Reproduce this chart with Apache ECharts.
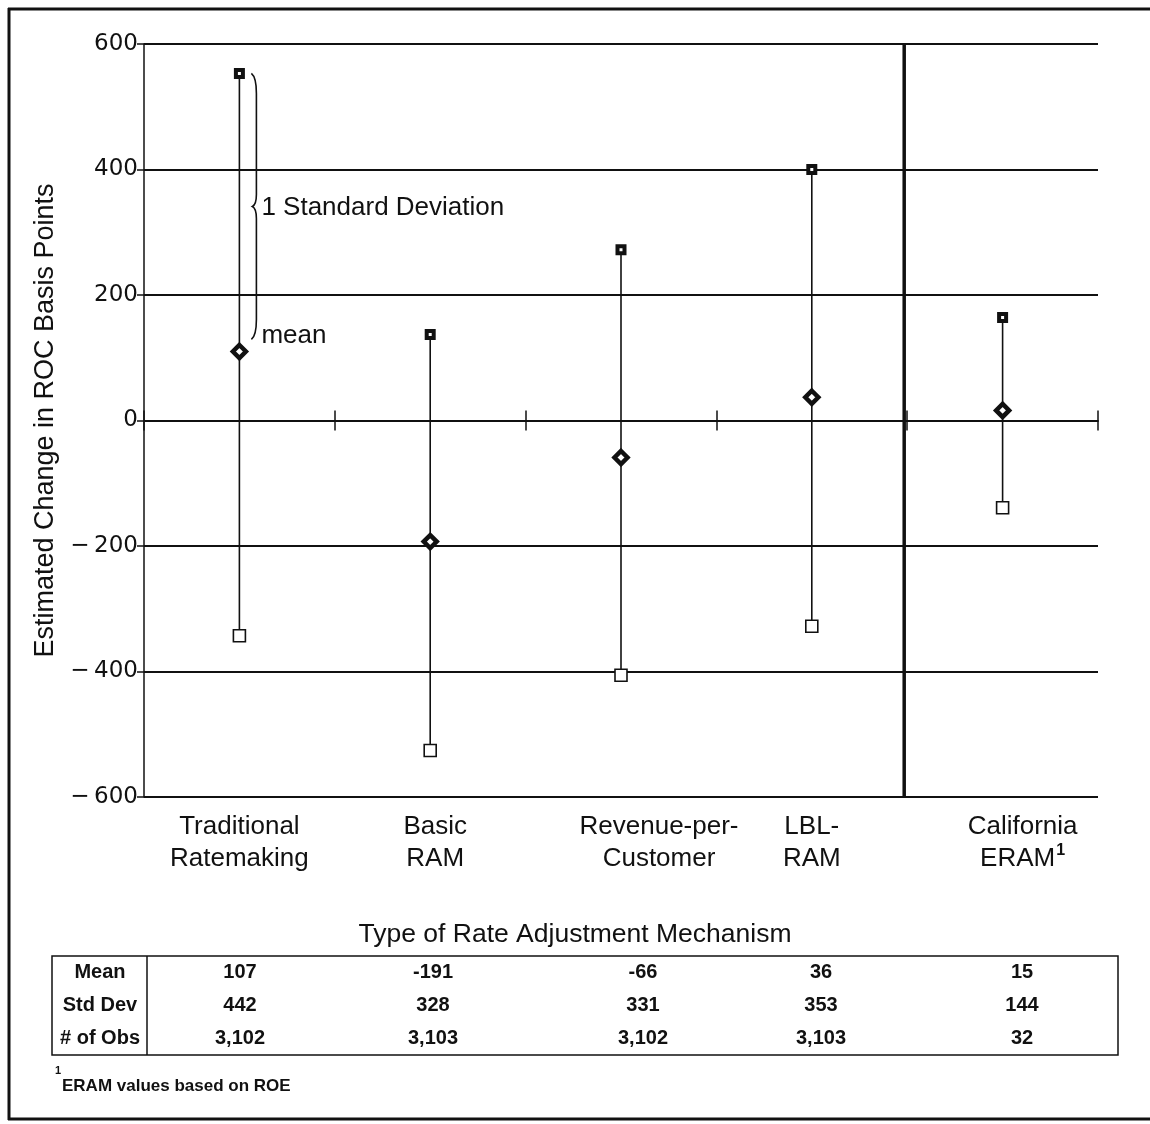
<!DOCTYPE html>
<html>
<head>
<meta charset="utf-8">
<script src="https://cdn.jsdelivr.net/npm/echarts@6/dist/echarts.min.js"></script>
<style>
html,body{margin:0;padding:0;background:#fff;}
#chart{width:1150px;height:1124px;}
</style>
</head>
<body>
<div id="chart"></div>
<script>
// ---- data ----
var categories = ['Traditional\nRatemaking', 'Basic\nRAM', 'Revenue-per-\nCustomer', 'LBL-\nRAM', 'California\nERAM'];
var meanValues = [110, -193, -59, 37, 16];          // diamonds
var upperValues = [553, 137, 272, 400, 164];        // mean + 1 SD
var lowerValues = [-343, -526, -406, -328, -139];   // mean - 1 SD
var yTicks = [-600, -400, -200, 0, 200, 400, 600];
var tableRowLabels = ['Mean', 'Std Dev', '# of Obs'];
var tableMean = ['107', '-191', '-66', '36', '15'];
var tableStd = ['442', '328', '331', '353', '144'];
var tableObs = ['3,102', '3,103', '3,102', '3,103', '32'];

// ---- layout ----
var labelFont = '"Liberation Sans", Arial, Helvetica, sans-serif';
var tickFont = '"DejaVu Sans", sans-serif';
var tableColX = [240, 433, 643, 821, 1022];
var tableRowY = [972, 1005, 1038];

var chart = echarts.init(document.getElementById('chart'), null, {renderer: 'canvas'});

var barData = categories.map(function (c, i) { return [i, lowerValues[i], upperValues[i]]; });

var labelPads = [0, 10, 76, 0, 40];
var rich = {};
labelPads.forEach(function (p, i) {
  rich['c' + i] = {fontFamily: labelFont, fontSize: 26, color: '#111', lineHeight: 32, padding: [0, 0, 0, p]};
});
rich.sup = {fontFamily: labelFont, fontSize: 16, fontWeight: 'bold', color: '#111', verticalAlign: 'top', lineHeight: 32, padding: [0, 0, 12, 1]};

var g = [];
g.push({type: 'rect', shape: {x: 52, y: 956, width: 1066, height: 99}, style: {fill: null, stroke: '#111', lineWidth: 1.5}});
g.push({type: 'line', shape: {x1: 147, y1: 956, x2: 147, y2: 1055}, style: {stroke: '#111', lineWidth: 1.5}});
var rows = [tableMean, tableStd, tableObs];
tableRowLabels.forEach(function (lab, r) {
  g.push({type: 'text', x: 100, y: tableRowY[r], style: {text: lab, font: 'bold 20px ' + labelFont, fill: '#111', align: 'center', verticalAlign: 'middle'}});
  rows[r].forEach(function (v, c) {
    g.push({type: 'text', x: tableColX[c], y: tableRowY[r], style: {text: v, font: 'bold 20px ' + labelFont, fill: '#111', align: 'center', verticalAlign: 'middle'}});
  });
});
// footnote
g.push({type: 'text', x: 55, y: 1071, style: {text: '1', font: 'bold 11px ' + labelFont, fill: '#111', verticalAlign: 'middle'}});
g.push({type: 'text', x: 62, y: 1086, style: {text: 'ERAM values based on ROE', font: 'bold 17px ' + labelFont, fill: '#111', verticalAlign: 'middle'}});
// outer frame
g.push({type: 'line', shape: {x1: 9, y1: 8, x2: 9, y2: 1120}, style: {stroke: '#111', lineWidth: 3}});
g.push({type: 'line', shape: {x1: 8, y1: 9, x2: 1150, y2: 9}, style: {stroke: '#111', lineWidth: 3}});
g.push({type: 'line', shape: {x1: 8, y1: 1119, x2: 1150, y2: 1119}, style: {stroke: '#111', lineWidth: 3}});

var yBase = {
  type: 'value', min: yTicks[0], max: yTicks[yTicks.length - 1], interval: 200
};

var option = {
  animation: false,
  backgroundColor: '#fff',
  title: {
    text: 'Type of Rate Adjustment Mechanism',
    left: 'center', top: 916,
    textStyle: {fontFamily: labelFont, fontSize: 26.5, fontWeight: 'normal', color: '#111'}
  },
  grid: {left: 144, right: 52, top: 44, bottom: 327, containLabel: false},
  xAxis: [
    {
      type: 'category', data: categories, position: 'bottom', boundaryGap: true,
      axisLine: {show: false, onZero: false}, axisTick: {show: false},
      axisLabel: {
        margin: 14, interval: 0,
        formatter: function (v, i) {
          var lines = v.split('\n');
          var s = '{c' + i + '|' + lines[0] + '}\n{c' + i + '|' + lines[1] + '}';
          if (i === 4) s += '{sup|1}';
          return s;
        },
        rich: rich
      },
      splitLine: {show: false}
    },
    {
      type: 'category', data: categories, position: 'bottom', boundaryGap: true,
      axisLine: {show: true, onZero: true, onZeroAxisIndex: 0, lineStyle: {color: '#111', width: 1.5}},
      axisTick: {show: true, inside: false, length: 10, interval: 0, lineStyle: {color: '#111', width: 1.5}},
      axisLabel: {show: false}, splitLine: {show: false}
    },
    {
      type: 'category', data: categories, position: 'bottom', boundaryGap: true,
      axisLine: {show: true, onZero: true, onZeroAxisIndex: 1, lineStyle: {color: '#111', width: 1.5}},
      axisTick: {show: true, inside: true, length: 10, interval: 0, lineStyle: {color: '#111', width: 1.5}},
      axisLabel: {show: false}, splitLine: {show: false}
    }
  ],
  yAxis: [
    Object.assign({}, yBase, {
      position: 'left',
      name: 'Estimated Change in ROC Basis Points', nameLocation: 'middle', nameGap: 84, nameRotate: 90,
      nameTextStyle: {fontFamily: labelFont, fontSize: 27, color: '#111'},
      axisLine: {show: true, onZero: false, lineStyle: {color: '#111', width: 1.5}},
      axisTick: {show: true, length: 7, lineStyle: {color: '#111', width: 1.5}},
      axisLabel: {
        margin: 6, fontFamily: tickFont, fontSize: 23, color: '#111',
        formatter: function (v) { return v < 0 ? '\u2212' + '\u2009' + Math.abs(v) : String(v); }
      },
      splitLine: {show: true, lineStyle: {color: '#111', width: 1.8}}
    }),
    Object.assign({}, yBase, {
      position: 'right',
      axisLine: {show: false, onZero: false}, axisTick: {show: false}, axisLabel: {show: false}, splitLine: {show: false}
    })
  ],
  series: [
    {
      // thick separator between the RAM studies and California ERAM
      type: 'custom', xAxisIndex: 0, yAxisIndex: 0, z: 2, silent: true,
      data: [[3, 4]],
      renderItem: function (params, api) {
        var a = api.coord([api.value(0), yTicks[0]]);
        var b = api.coord([api.value(1), yTicks[yTicks.length - 1]]);
        var x = (a[0] + b[0]) / 2 - 3;
        return {type: 'line', shape: {x1: x, y1: a[1], x2: x, y2: b[1]}, style: {stroke: '#111', lineWidth: 3.5}};
      }
    },
    {
      type: 'custom', xAxisIndex: 0, z: 3, data: barData,
      renderItem: function (params, api) {
        var p1 = api.coord([api.value(0), api.value(1)]);
        var p2 = api.coord([api.value(0), api.value(2)]);
        return {type: 'line', shape: {x1: p1[0], y1: p1[1], x2: p2[0], y2: p2[1]}, style: {stroke: '#111', lineWidth: 1.6}};
      }
    },
    {
      type: 'scatter', xAxisIndex: 0, z: 5, data: upperValues, symbol: 'rect', symbolSize: 7,
      itemStyle: {color: '#fff', borderColor: '#111', borderWidth: 4, opacity: 1}
    },
    {
      type: 'scatter', xAxisIndex: 0, z: 5, data: lowerValues, symbol: 'rect', symbolSize: 12,
      itemStyle: {color: '#fff', borderColor: '#111', borderWidth: 1.6, opacity: 1}
    },
    {
      type: 'scatter', xAxisIndex: 0, z: 5, data: meanValues, symbol: 'diamond', symbolSize: 13,
      itemStyle: {color: '#fff', borderColor: '#111', borderWidth: 4.5, opacity: 1}
    },
    {
      // annotation brace for first category
      type: 'custom', xAxisIndex: 0, z: 4, silent: true,
      data: [[0, upperValues[0], meanValues[0]]],
      renderItem: function (params, api) {
        var top = api.coord([api.value(0), api.value(1)]);
        var mean = api.coord([api.value(0), api.value(2)]);
        var x = top[0] + 12;
        var yT = top[1];
        var yB = mean[1] - 12;
        var yM = (yT + yB) / 2;
        var path = 'M' + x + ' ' + yT +
          ' Q' + (x + 5) + ' ' + (yT + 4) + ' ' + (x + 5) + ' ' + (yT + 20) +
          ' L' + (x + 5) + ' ' + (yM - 12) +
          ' Q' + (x + 5) + ' ' + (yM - 2) + ' ' + (x + 1) + ' ' + yM +
          ' Q' + (x + 5) + ' ' + (yM + 2) + ' ' + (x + 5) + ' ' + (yM + 12) +
          ' L' + (x + 5) + ' ' + (yB - 20) +
          ' Q' + (x + 5) + ' ' + (yB - 4) + ' ' + x + ' ' + yB;
        return {
          type: 'group',
          children: [
            {type: 'path', shape: {pathData: path}, style: {fill: null, stroke: '#111', lineWidth: 1.6}},
            {type: 'text', x: x + 10, y: yM + 1, style: {text: '1 Standard Deviation', font: '26px ' + labelFont, fill: '#111', verticalAlign: 'middle'}},
            {type: 'text', x: x + 10, y: yB - 4, style: {text: 'mean', font: '26px ' + labelFont, fill: '#111', verticalAlign: 'middle'}}
          ]
        };
      }
    }
  ],
  graphic: g
};
chart.setOption(option);
</script>
</body>
</html>
